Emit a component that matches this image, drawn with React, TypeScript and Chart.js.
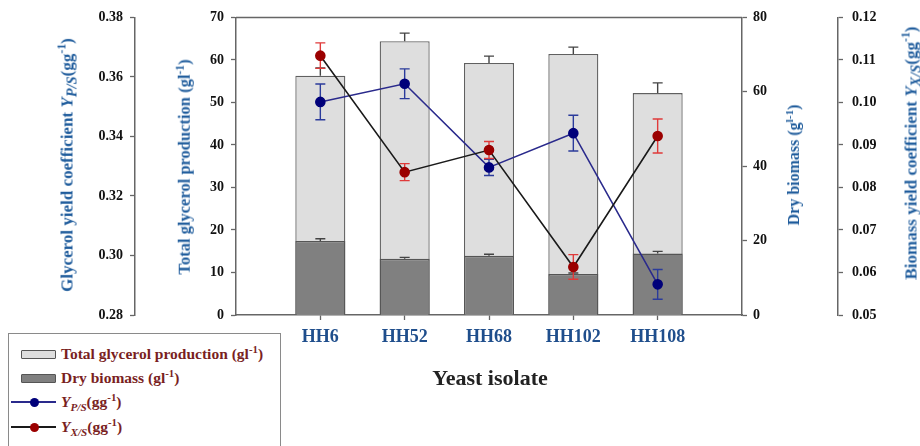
import React, { useEffect, useRef } from "react";
import { Chart, registerables } from "chart.js";

Chart.register(...registerables);

const categories = ["", "HH6", "HH52", "HH68", "HH102", "HH108", ""];
const glycerol = [null, 56.3, 64.4, 59.3, 61.4, 52.2, null];
const glycerolErr = [null, 1.8, 1.9, 1.6, 1.6, 2.4, null];
const dryBiomass = [null, 19.9, 15.1, 15.9, 11.0, 16.5, null];
const dryBiomassErr = [null, 0.6, 0.4, 0.45, 0.3, 0.6, null];
const yps = [null, 0.3516, 0.3577, 0.3296, 0.3411, 0.2903, null];
const ypsErr = [null, 0.006, 0.005, 0.0027, 0.006, 0.005, null];
const yxs = [null, 0.111, 0.0836, 0.0888, 0.0613, 0.0921, null];
const yxsErr = [null, 0.003, 0.002, 0.002, 0.0029, 0.004, null];

const SERIF = '"Liberation Serif", "Times New Roman", serif';
const TITLE_BLUE = "#1f5c9c";
const LEGEND_RED = "#7a1f1f";
const AXIS_GRAY = "#666";

const errorBarPlugin = {
  id: "errorBars",
  beforeDatasetDraw(chart: any, args: any) {
    const ds: any = chart.data.datasets[args.index];
    const errs = ds.errors;
    if (!errs) return;
    const meta = args.meta;
    const scale = chart.scales[meta.yAxisID];
    const ctx = chart.ctx;
    ctx.save();
    ctx.strokeStyle = ds.errorColor;
    ctx.lineWidth = 1.4;
    meta.data.forEach((el: any, i: number) => {
      const v = ds.data[i];
      const e = errs[i];
      if (v == null || e == null) return;
      const x = el.x;
      const yTop = scale.getPixelForValue(v + e);
      const yBot = ds.errorUpOnly ? el.y : scale.getPixelForValue(v - e);
      const h = ds.capHalf;
      ctx.beginPath();
      ctx.moveTo(x, yTop);
      ctx.lineTo(x, yBot);
      ctx.moveTo(x - h, yTop);
      ctx.lineTo(x + h, yTop);
      if (!ds.errorUpOnly) {
        ctx.moveTo(x - h, yBot);
        ctx.lineTo(x + h, yBot);
      }
      ctx.stroke();
    });
    ctx.restore();
  },
};

const frameTopPlugin = {
  id: "frameTop",
  beforeDatasetsDraw(chart: any) {
    const { ctx, chartArea } = chart;
    ctx.save();
    ctx.strokeStyle = AXIS_GRAY;
    ctx.lineWidth = 1.5;
    ctx.beginPath();
    ctx.moveTo(chartArea.left, chartArea.top);
    ctx.lineTo(chartArea.right, chartArea.top);
    ctx.stroke();
    ctx.restore();
  },
};

const tickFont = { family: SERIF, size: 14, weight: "bold" as const };

function yAxis(position: string, min: number, max: number, step: number, width: number, weight: number, decimals: number, padding: number) {
  return {
    type: "linear",
    position,
    min,
    max,
    weight,
    afterFit: (s: any) => {
      s.width = width;
    },
    ticks: {
      stepSize: step,
      color: "#111",
      font: tickFont,
      padding,
      callback: (v: any) => Number(v).toFixed(decimals),
    },
    grid: {
      drawOnChartArea: false,
      drawTicks: true,
      tickLength: 5,
      tickColor: AXIS_GRAY,
      tickWidth: 1.3,
    },
    border: { display: true, color: AXIS_GRAY, width: 1.5 },
    title: { display: false },
  };
}

const sup: React.CSSProperties = { fontSize: "0.7em", verticalAlign: "0.55em", lineHeight: 0 };
const sub: React.CSSProperties = { fontSize: "0.72em", verticalAlign: "-0.3em", lineHeight: 0 };
const subBig: React.CSSProperties = { fontSize: "0.85em", verticalAlign: "-0.3em", lineHeight: 0 };

function RotTitle({ cx, cy, children, size = 16 }: any) {
  return (
    <div
      style={{
        position: "absolute",
        left: cx,
        top: cy,
        transform: "translate(-50%, -50%) rotate(-90deg)",
        whiteSpace: "nowrap",
        color: TITLE_BLUE,
        fontWeight: "bold",
        fontSize: size,
        fontFamily: SERIF,
        lineHeight: 1,
      }}
    >
      {children}
    </div>
  );
}

function LegendRow({ y, kind, fill, line, dot, children }: any) {
  return (
    <div style={{ position: "absolute", left: 0, top: y, width: 270, height: 0 }}>
      {kind === "rect" ? (
        <div
          style={{
            position: "absolute",
            left: 12,
            top: -4,
            width: 33,
            height: 7,
            background: fill,
            border: "1px solid #555",
            borderRadius: 1,
          }}
        />
      ) : (
        <>
          <div style={{ position: "absolute", left: 2, top: -0.75, width: 45, height: 1.5, background: line }} />
          <div
            style={{
              position: "absolute",
              left: 25 - 4.5,
              top: -4.5,
              width: 9,
              height: 9,
              borderRadius: "50%",
              background: dot,
            }}
          />
        </>
      )}
      <div
        style={{
          position: "absolute",
          left: 52,
          top: 0,
          transform: "translateY(-50%)",
          whiteSpace: "nowrap",
          color: LEGEND_RED,
          fontWeight: "bold",
          fontSize: 15.5,
          fontFamily: SERIF,
          lineHeight: 1,
        }}
      >
        {children}
      </div>
    </div>
  );
}

export default function App() {
  const ref = useRef<HTMLCanvasElement | null>(null);

  useEffect(() => {
    if (!ref.current) return;
    const chart = new Chart(ref.current, {
      type: "bar",
      data: {
        labels: categories,
        datasets: [
          {
            type: "line",
            label: "Y X/S",
            data: yxs,
            yAxisID: "yXS",
            order: 0,
            borderColor: "#1a1a1a",
            borderWidth: 1.6,
            pointBackgroundColor: "#9b0000",
            pointBorderColor: "#9b0000",
            pointRadius: 4.5,
            tension: 0,
            errors: yxsErr,
            errorColor: "#e03a3a",
            capHalf: 5,
          } as any,
          {
            type: "line",
            label: "Y P/S",
            data: yps,
            yAxisID: "yPS",
            order: 1,
            borderColor: "#2a2a8c",
            borderWidth: 1.6,
            pointBackgroundColor: "#00007a",
            pointBorderColor: "#00007a",
            pointRadius: 4.5,
            tension: 0,
            errors: ypsErr,
            errorColor: "#2b3b9b",
            capHalf: 5,
          } as any,
          {
            type: "bar",
            label: "Dry biomass",
            data: dryBiomass,
            yAxisID: "yDry",
            order: 2,
            grouped: false,
            backgroundColor: "#808080",
            borderColor: "#555",
            borderWidth: 1.3,
            barPercentage: 0.593,
            categoryPercentage: 1,
            errors: dryBiomassErr,
            errorColor: "#444",
            errorUpOnly: true,
            capHalf: 5,
          } as any,
          {
            type: "bar",
            label: "Total glycerol production",
            data: glycerol,
            yAxisID: "y",
            order: 3,
            grouped: false,
            backgroundColor: "#dedede",
            borderColor: "#606060",
            borderWidth: 1.3,
            barPercentage: 0.593,
            categoryPercentage: 1,
            errors: glycerolErr,
            errorColor: "#444",
            errorUpOnly: true,
            capHalf: 5,
          } as any,
        ],
      },
      options: {
        responsive: false,
        animation: false,
        layout: { padding: { top: 16, left: 0, right: 0, bottom: 0 } },
        plugins: { legend: { display: false }, tooltip: { enabled: false } },
        scales: {
          x: {
            type: "category",
            offset: false,
            afterFit: (s: any) => {
              s.height = 131;
            },
            ticks: {
              color: "#1f4e8c",
              font: { family: SERIF, size: 18, weight: "bold" },
              padding: 7,
              autoSkip: false,
              maxRotation: 0,
            },
            grid: {
              offset: false,
              drawOnChartArea: false,
              drawTicks: true,
              tickLength: 5,
              tickColor: (c: any) => (categories[c.index] ? AXIS_GRAY : "rgba(0,0,0,0)"),
              tickWidth: 1.3,
            },
            border: { display: true, color: AXIS_GRAY, width: 1.5 },
          },
          yPS: yAxis("left", 0.28, 0.38, 0.02, 135, 2, 2, 7),
          y: yAxis("left", 0, 70, 10, 101, 1, 0, 7),
          yDry: yAxis("right", 0, 80, 20, 96, 1, 0, 6),
          yXS: yAxis("right", 0.05, 0.12, 0.01, 82, 2, 2, 9),
        } as any,
      },
      plugins: [errorBarPlugin, frameTopPlugin],
    } as any);
    return () => chart.destroy();
  }, []);

  return (
    <div
      style={{
        position: "fixed",
        left: 0,
        top: 0,
        width: 920,
        height: 446,
        background: "#fff",
        overflow: "hidden",
        fontFamily: SERIF,
      }}
    >
      <canvas ref={ref} width={920} height={446} style={{ position: "absolute", left: 0, top: 0, width: 920, height: 446 }} />

      <RotTitle cx={67} cy={165} size={17}>
        Glycerol yield coefficient <i>Y</i>
        <sub style={subBig}>
          <i>P/S</i>
        </sub>
        (gg<sup style={sup}>-1</sup>)
      </RotTitle>
      <RotTitle cx={185} cy={167} size={16.5}>
        Total glycerol production (gl<sup style={sup}>-1</sup>)
      </RotTitle>
      <RotTitle cx={794} cy={165} size={16}>
        Dry biomass (g<sup style={sup}>l-1</sup>)
      </RotTitle>
      <RotTitle cx={911} cy={153} size={17}>
        Biomass yield coefficient <i>Y</i>
        <sub style={subBig}>
          <i>X/S</i>
        </sub>
        (gg<sup style={sup}>-1</sup>)
      </RotTitle>

      <div
        style={{
          position: "absolute",
          left: 490,
          top: 378,
          transform: "translate(-50%, -50%)",
          whiteSpace: "nowrap",
          fontWeight: "bold",
          fontSize: 22,
          color: "#222",
          fontFamily: SERIF,
          lineHeight: 1,
        }}
      >
        Yeast isolate
      </div>

      <div
        style={{
          position: "absolute",
          left: 8,
          top: 333,
          width: 273,
          height: 130,
          border: "1px solid #8a8a8a",
          background: "#fff",
          boxSizing: "border-box",
        }}
      >
        <LegendRow y={20} kind="rect" fill="#dedede">
          Total glycerol production (gl<sup style={sup}>-1</sup>)
        </LegendRow>
        <LegendRow y={44} kind="rect" fill="#808080">
          Dry biomass (gl<sup style={sup}>-1</sup>)
        </LegendRow>
        <LegendRow y={68} kind="line" line="#2a2a8c" dot="#00007a">
          <i>Y</i>
          <sub style={sub}>
            <i>P/S</i>
          </sub>
          (gg<sup style={sup}>-1</sup>)
        </LegendRow>
        <LegendRow y={93} kind="line" line="#1a1a1a" dot="#9b0000">
          <i>Y</i>
          <sub style={sub}>
            <i>X/S</i>
          </sub>
          (gg<sup style={sup}>-1</sup>)
        </LegendRow>
      </div>
    </div>
  );
}
